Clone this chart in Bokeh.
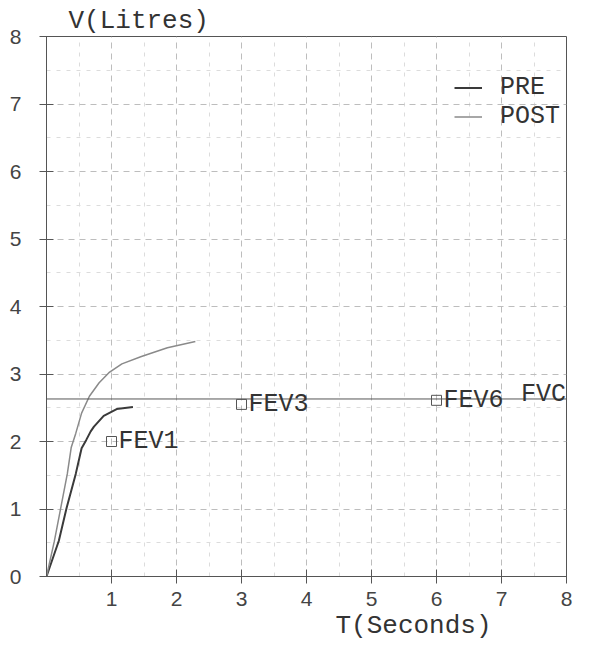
from bokeh.plotting import figure
from bokeh.models import (Range1d, Label, Span, Legend, LegendItem, FixedTicker,
                          ColumnDataSource, LabelSet, Title)
from bokeh.core.properties import value
from bokeh.embed import file_html
from bokeh.resources import INLINE

# ---- data ----
time_pre = [0.0, 0.19, 0.31, 0.45, 0.54, 0.61, 0.68, 0.73, 0.88, 1.08, 1.33]
vol_pre = [0.0, 0.53, 1.02, 1.52, 1.90, 2.02, 2.15, 2.22, 2.38, 2.48, 2.51]

time_post = [0.0, 0.12, 0.22, 0.32, 0.38, 0.45, 0.54, 0.66, 0.81, 0.96,
             1.16, 1.46, 1.86, 2.29]
vol_post = [0.0, 0.52, 1.02, 1.52, 1.91, 2.12, 2.42, 2.67, 2.87, 3.02,
            3.15, 3.26, 3.39, 3.48]

fvc_value = 2.63

fev_names = ["FEV1", "FEV3", "FEV6"]
fev_time = [1.0, 3.0, 6.0]
fev_vol = [2.0, 2.55, 2.61]

x_ticks = [1, 2, 3, 4, 5, 6, 7, 8]
y_ticks = [0, 1, 2, 3, 4, 5, 6, 7, 8]
minor_grid = [0.5, 1.5, 2.5, 3.5, 4.5, 5.5, 6.5, 7.5]

MONO = "Liberation Mono"
SANS = "Liberation Sans"

p = figure(width=573, height=640, x_range=Range1d(0, 8), y_range=Range1d(0, 8),
           output_backend="svg", toolbar_location=None,
           min_border_left=46, min_border_right=7, min_border_top=36,
           min_border_bottom=0)
p.background_fill_color = "white"
p.border_fill_color = "white"
p.outline_line_color = "#555555"
p.outline_line_width = 1

p.xaxis.ticker = FixedTicker(ticks=x_ticks, minor_ticks=minor_grid)
p.yaxis.ticker = FixedTicker(ticks=y_ticks, minor_ticks=minor_grid)
for ax in (p.xaxis, p.yaxis):
    ax.axis_line_color = "#555555"
    ax.major_tick_line_color = "#555555"
    ax.major_tick_in = 7
    ax.major_tick_out = 7
    ax.minor_tick_line_color = None
    ax.major_label_text_font = SANS
    ax.major_label_text_font_size = "21px"
    ax.major_label_text_color = "#444444"
p.xaxis.major_label_standoff = 8
p.yaxis.major_label_standoff = 18

for g in (p.xgrid, p.ygrid):
    g.ticker = FixedTicker(ticks=y_ticks, minor_ticks=minor_grid)
    g.grid_line_color = "#bdbdbd"
    g.grid_line_dash = "6 5"
    g.grid_line_width = 1
    g.minor_grid_line_color = "#dcdcdc"
    g.minor_grid_line_dash = "4 6"

# curves
r_pre = p.line(time_pre, vol_pre, line_color="#3a3a3a", line_width=2)
r_post = p.line(time_post, vol_post, line_color="#8a8a8a", line_width=1.5)

# FVC line
p.add_layout(Span(location=fvc_value, dimension="width", line_color="#555555",
                  line_width=1))
p.add_layout(Label(x=7.3, y=fvc_value + 0.07, text="FVC", text_font=MONO,
                   text_font_size="25px", text_color="#333333",
                   text_baseline="alphabetic"))

# FEV markers
src = ColumnDataSource(dict(t=fev_time, v=fev_vol, name=fev_names))
p.scatter("t", "v", source=src, marker="square", size=10, fill_color=None,
          line_color="#555555", line_width=1)
p.add_layout(LabelSet(x="t", y="v", text="name", source=src, x_offset=7,
                      text_baseline="middle", text_font=value(MONO),
                      text_font_size=value("25px"), text_color="#333333"))

# axis titles (as titles so they are not clipped by the frame)
p.add_layout(Title(text="V(Litres)", align="left", offset=22, standoff=2,
                   text_font=MONO, text_font_size="26px",
                   text_font_style="normal", text_color="#333333"), "above")
p.add_layout(Title(text="T(Seconds)", align="left", offset=289, standoff=0,
                   text_font=MONO, text_font_size="26px",
                   text_font_style="normal", text_color="#333333"), "below")

legend = Legend(items=[LegendItem(label="PRE", renderers=[r_pre]),
                       LegendItem(label="POST", renderers=[r_post])],
                location=(408, 445), label_text_font=MONO,
                label_text_font_size="25px", label_text_color="#333333",
                glyph_width=28, glyph_height=29, label_height=29,
                label_standoff=18, spacing=0, padding=0, margin=0,
                border_line_color=None, background_fill_alpha=0)
p.add_layout(legend)

open("out.html", "w").write(file_html(p, INLINE))
